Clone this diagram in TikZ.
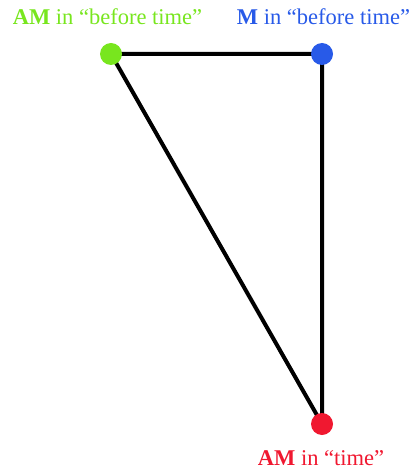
\documentclass[tikz,border=0pt]{standalone}
\usepackage{fontspec}
\setmainfont{Liberation Serif}
\definecolor{cgreen}{RGB}{120,230,30}
\definecolor{cblue}{RGB}{40,90,232}
\definecolor{cred}{RGB}{240,24,48}
\begin{document}
\begin{tikzpicture}[x=1pt,y=-1pt,
  dot/.style={circle,inner sep=0pt,minimum size=22pt},
  lbl/.style={anchor=base,inner sep=0pt,font=\fontsize{22.5}{26}\selectfont},
  edge/.style={line width=4pt,black}]
\useasboundingbox (0,0) rectangle (414,470);
\coordinate (g) at (111,54);
\coordinate (b) at (322,54);
\coordinate (r) at (322,424);
\draw[edge] (g) -- (b) -- (r) -- cycle;
\node[dot,fill=cgreen] (gd) at (g) {};
\node[dot,fill=cblue] (bd) at (b) {};
\node[dot,fill=cred] (rd) at (r) {};
\node[lbl,text=cgreen] (gl) at (107.5,25) {\textbf{AM} in “before time”};
\node[lbl,text=cblue] (bl) at (323.5,25) {\textbf{M} in “before time”};
\node[lbl,text=cred] (rl) at (321,465) {\textbf{AM} in “time”};
\end{tikzpicture}
\end{document}
